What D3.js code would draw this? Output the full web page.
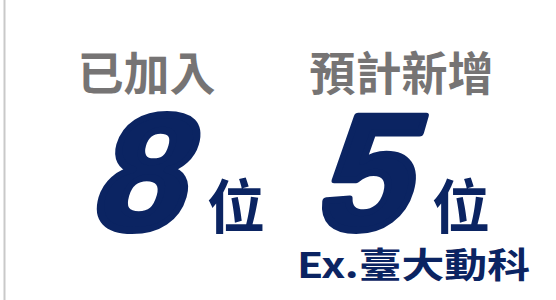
<!DOCTYPE html>
<html>
<head>
<meta charset="utf-8">
<script src="https://cdn.jsdelivr.net/npm/d3@7"></script>
<style>
  html, body { margin: 0; padding: 0; background: #ffffff; }
  svg { display: block; }
</style>
</head>
<body>
<script>
// ---- data ----
const labels = ["已加入", "預計新增"];
const values = [8, 5];
const units = ["位", "位"];
const notes = ["", "Ex.臺大動科"];

const W = 556, H = 300;
const gray = "#767474";
const navy = "#0b2462";
const cjk = "'Noto Sans CJK TC', 'Noto Sans CJK SC', sans-serif";

const svg = d3.select("body").append("svg")
  .attr("width", W).attr("height", H);

// card border (left edge visible)
svg.append("line")
  .attr("x1", 4.5).attr("x2", 4.5).attr("y1", 0).attr("y2", H)
  .attr("stroke", "#c9c9c9").attr("stroke-width", 2);

// scales
const xLabel = d3.scalePoint().domain(labels).range([146.5, 401.5]);
const xUnit = d3.scalePoint().domain(labels).range([207, 432]);

const rows = labels.map((l, i) => ({ label: l, value: values[i], unit: units[i], note: notes[i] }));

const g = svg.selectAll("g.col").data(rows).join("g").attr("class", "col");

g.append("text")
  .attr("x", d => xLabel(d.label))
  .attr("y", 90)
  .attr("text-anchor", "middle")
  .attr("font-family", cjk)
  .attr("font-weight", 700)
  .attr("font-size", 46)
  .attr("fill", gray)
  .text(d => d.label);

g.append("text")
  .attr("transform", d => `translate(${xUnit(d.label) - 28},229) skewX(-16)`)
  .attr("text-anchor", "end")
  .attr("font-family", "'Liberation Sans', Arial, sans-serif")
  .attr("font-weight", 700)
  .attr("font-size", 164)
  .attr("fill", navy)
  .attr("stroke", navy)
  .attr("stroke-width", 7)
  .attr("stroke-linejoin", "round")
  .text(d => d.value);

g.append("text")
  .attr("x", d => xUnit(d.label))
  .attr("y", 228)
  .attr("font-family", cjk)
  .attr("font-weight", 700)
  .attr("font-size", 58)
  .attr("fill", navy)
  .text(d => d.unit);

g.filter(d => d.note).append("text")
  .attr("x", 297)
  .attr("y", 278)
  .attr("font-family", cjk)
  .attr("font-weight", 700)
  .attr("font-size", 35)
  .attr("textLength", 233)
  .attr("lengthAdjust", "spacingAndGlyphs")
  .attr("fill", navy)
  .text(d => d.note);
</script>
</body>
</html>
